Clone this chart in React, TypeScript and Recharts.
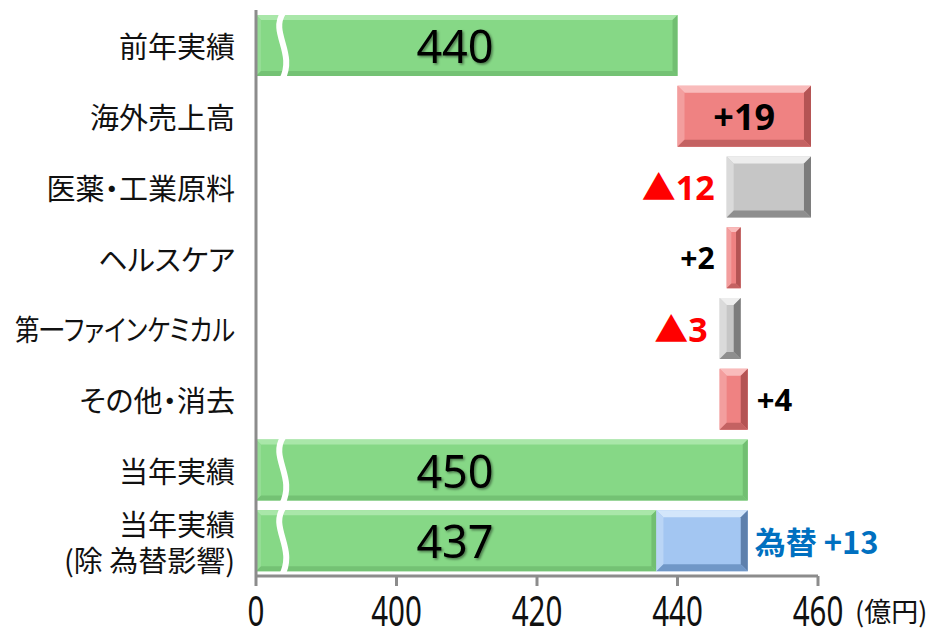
import { Bar, BarChart, XAxis, YAxis } from "recharts";

const categories = [
	"前年実績",
	"海外売上高",
	"医薬・工業原料",
	"ヘルスケア",
	"第一ファインケミカル",
	"その他・消去",
	"当年実績",
	"当年実績\n(除 為替影響)",
];
const totals: Array<number | null> = [440, null, null, null, null, null, 450, 437];
const changes: Array<number | null> = [null, 19, -12, 2, -3, 4, null, null];
const fxEffect: Array<number | null> = [null, null, null, null, null, null, null, 13];
const xTicks = [380, 400, 420, 440, 460];

// the axis is broken below 400, its first tick stands for 0
const AXIS_START = 380;

const FONT_JP = '"Noto Sans CJK JP", "Noto Sans", sans-serif';
const FONT_NUM = '"Noto Sans", "Noto Sans CJK JP", sans-serif';

type Side = "inside" | "left" | "right";
const CHANGE_LABELS: Record<string, { side: Side; size: number }> = {
	海外売上高: { side: "inside", size: 36 },
	"医薬・工業原料": { side: "left", size: 34 },
	ヘルスケア: { side: "left", size: 30 },
	第一ファインケミカル: { side: "left", size: 34 },
	"その他・消去": { side: "right", size: 31 },
};

// long category names are squeezed to fit the axis gutter
const LABEL_FIT: Record<string, number> = { 第一ファインケミカル: 220 };

type Palette = { face: string; top: string; left: string; right: string; bottom: string };
const GREEN: Palette = { face: "#86D886", top: "#A9E7A9", left: "#95DD95", right: "#72BF72", bottom: "#74C274" };
const RED: Palette = { face: "#EF8282", top: "#F9BBBB", left: "#F39E9E", right: "#B45454", bottom: "#C46262" };
const GRAY: Palette = { face: "#C6C6C6", top: "#EDEDED", left: "#DADADA", right: "#7C7C7C", bottom: "#8E8E8E" };
const BLUE: Palette = { face: "#A3C6F2", top: "#D3E6FB", left: "#BAD5F6", right: "#5E80AC", bottom: "#7097C7" };

// waterfall rows, offsets measured from the axis start
let running = totals[0] ?? 0;
const rows = categories.map((name, i) => {
	const row = { name, base: 0, total: 0, up: 0, down: 0, fx: 0, change: changes[i], totalValue: totals[i], fxValue: fxEffect[i] };
	const t = totals[i];
	if (t != null) row.total = t - AXIS_START;
	const c = changes[i];
	if (c != null) {
		const end = running + c;
		row.base = Math.min(running, end) - AXIS_START;
		if (c > 0) row.up = c;
		else row.down = -c;
		running = end;
	}
	const f = fxEffect[i];
	if (f != null) row.fx = f;
	return row;
});

function BevelRect({ x, y, w, h, p, b }: { x: number; y: number; w: number; h: number; p: Palette; b: number }) {
	const e = Math.max(1, Math.min(b, w / 3, h / 3));
	return (
		<g>
			<rect x={x} y={y} width={w} height={h} fill={p.face} />
			<polygon points={`${x},${y} ${x + w},${y} ${x + w - e},${y + e} ${x + e},${y + e}`} fill={p.top} />
			<polygon points={`${x},${y} ${x + e},${y + e} ${x + e},${y + h - e} ${x},${y + h}`} fill={p.left} />
			<polygon points={`${x + w},${y} ${x + w},${y + h} ${x + w - e},${y + h - e} ${x + w - e},${y + e}`} fill={p.right} />
			<polygon points={`${x},${y + h} ${x + w},${y + h} ${x + w - e},${y + h - e} ${x + e},${y + h - e}`} fill={p.bottom} />
		</g>
	);
}

function TotalShape(props: any) {
	const { x, y, width, height, payload } = props;
	if (!width || width <= 0 || payload.totalValue == null) return null;
	const bx = x + 27;
	return (
		<g>
			<BevelRect x={x} y={y} w={width} h={height} p={GREEN} b={5} />
			<path
				d={`M${bx},${y - 2} C${bx - 13},${y + height * 0.3} ${bx + 13},${y + height * 0.62} ${bx - 1},${y + height + 4}`}
				stroke="#fff"
				strokeWidth={6}
				fill="none"
			/>
			<text
				x={x + 199}
				y={y + height / 2}
				textAnchor="middle"
				dominantBaseline="central"
				fontFamily={FONT_NUM}
				fontSize={45}
				fill="#000"
				filter="url(#textShadow)"
			>
				{payload.totalValue}
			</text>
		</g>
	);
}

function ChangeShape(props: any) {
	const { x, y, width, height, payload } = props;
	const c = payload.change;
	if (!width || width <= 0 || c == null) return null;
	const cfg = CHANGE_LABELS[payload.name];
	const text = c > 0 ? `+${c}` : `▲${-c}`;
	const cy = y + height / 2;
	let tx = x + width / 2;
	let anchor: "middle" | "end" | "start" = "middle";
	if (cfg.side === "left") {
		tx = x - 12;
		anchor = "end";
	} else if (cfg.side === "right") {
		tx = x + width + 9;
		anchor = "start";
	}
	return (
		<g>
			<BevelRect x={x} y={y} w={width} h={height} p={c > 0 ? RED : GRAY} b={7} />
			<text
				x={tx}
				y={cy}
				textAnchor={anchor}
				dominantBaseline="central"
				fontFamily={FONT_NUM}
				fontWeight="bold"
				fontSize={cfg.size}
				fill={c > 0 ? "#000" : "#FF0000"}
			>
				{text}
			</text>
		</g>
	);
}

function FxShape(props: any) {
	const { x, y, width, height, payload } = props;
	if (!width || width <= 0 || payload.fxValue == null) return null;
	return (
		<g>
			<BevelRect x={x} y={y} w={width} h={height} p={BLUE} b={7} />
			<text
				x={x + width + 7}
				y={y + height / 2}
				dominantBaseline="central"
				fontFamily={FONT_JP}
				fontWeight="bold"
				fontSize={31}
				fill="#0070C0"
			>
				為替 +{payload.fxValue}
			</text>
		</g>
	);
}

function CategoryTick({ x, y, payload }: any) {
	const lines = String(payload.value).split("\n");
	const lh = 36;
	return (
		<text
			x={x}
			y={y}
			textAnchor="end"
			dominantBaseline="central"
			fontFamily={FONT_JP}
			fontSize={29}
			fill="#111"
			style={{ fontFeatureSettings: '"palt"' }}
		>
			{lines.map((line, i) => (
				<tspan
					key={i}
					x={x}
					dy={i === 0 ? -((lines.length - 1) * lh) / 2 : lh}
					textLength={LABEL_FIT[line]}
					lengthAdjust={LABEL_FIT[line] ? "spacingAndGlyphs" : undefined}
				>
					{line}
				</tspan>
			))}
		</text>
	);
}

function ValueTick({ x, y, payload }: any) {
	const v = payload.value + AXIS_START;
	return (
		<g transform={`translate(${x},${y})`}>
			<text transform="scale(0.72,1)" x={0} y={38} textAnchor="middle" fontFamily={FONT_NUM} fontSize={41} fill="#111">
				{v === AXIS_START ? "0" : v}
			</text>
			{v === xTicks[xTicks.length - 1] && (
				<text x={37} y={34} fontFamily={FONT_JP} fontSize={27} fill="#111">
					(億円)
				</text>
			)}
		</g>
	);
}

export default function App() {
	return (
		<div style={{ position: "absolute", left: 0, top: 0, width: 935, height: 630, background: "#fff" }}>
			<BarChart
				width={935}
				height={630}
				data={rows}
				layout="vertical"
				margin={{ top: 10, right: 117, bottom: 0, left: 0 }}
				barCategoryGap={5}
			>
				<defs>
					<filter id="textShadow" x="-10%" y="-10%" width="130%" height="130%">
						<feDropShadow dx={1.5} dy={1.5} stdDeviation={1} floodColor="#000" floodOpacity={0.45} />
					</filter>
				</defs>
				<XAxis
					type="number"
					domain={[0, xTicks[xTicks.length - 1] - AXIS_START]}
					ticks={xTicks.map((t) => t - AXIS_START)}
					height={54}
					axisLine={{ stroke: "#8C8C8C", strokeWidth: 3 }}
					tickLine={{ stroke: "#8C8C8C", strokeWidth: 3 }}
					tickSize={10}
					tick={<ValueTick />}
				/>
				<YAxis
					type="category"
					dataKey="name"
					width={256}
					axisLine={{ stroke: "#8C8C8C", strokeWidth: 3 }}
					tickLine={false}
					tickSize={0}
					tickMargin={21}
					tick={<CategoryTick />}
					interval={0}
				/>
				<Bar dataKey="base" stackId="w" fill="none" isAnimationActive={false} />
				<Bar dataKey="total" stackId="w" shape={<TotalShape />} isAnimationActive={false} />
				<Bar dataKey="up" stackId="w" shape={<ChangeShape />} isAnimationActive={false} />
				<Bar dataKey="down" stackId="w" shape={<ChangeShape />} isAnimationActive={false} />
				<Bar dataKey="fx" stackId="w" shape={<FxShape />} isAnimationActive={false} />
			</BarChart>
		</div>
	);
}
